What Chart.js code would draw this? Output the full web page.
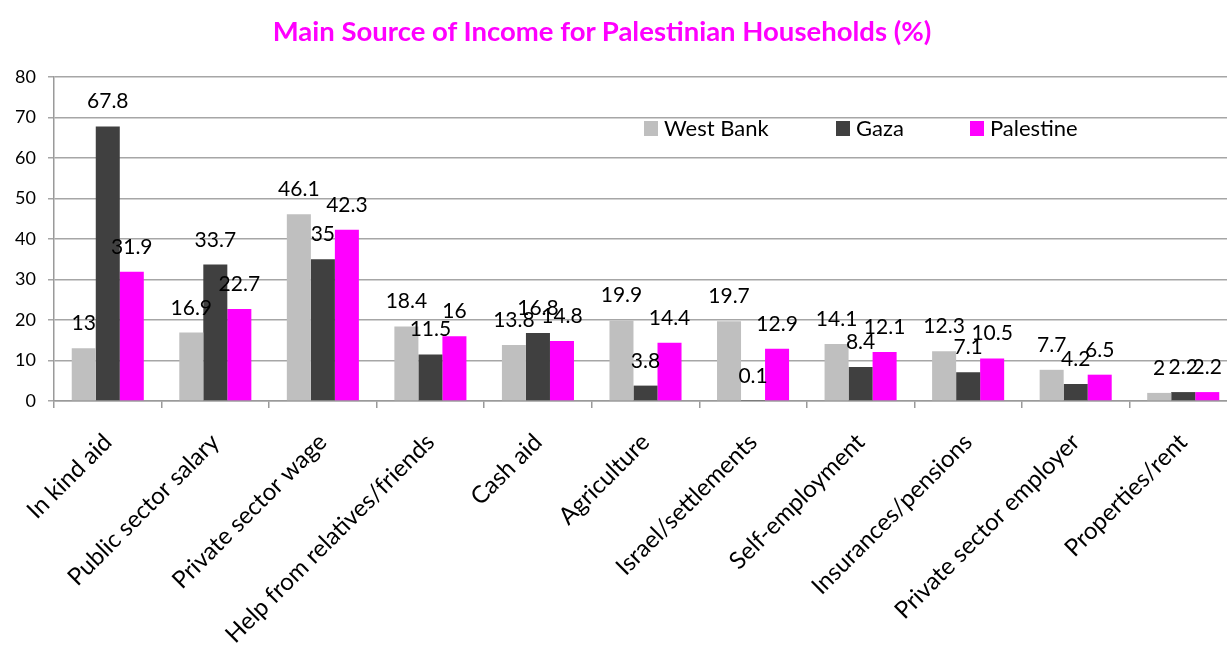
<!DOCTYPE html>
<html>
<head>
<meta charset="utf-8">
<script src="https://cdn.jsdelivr.net/npm/chart.js@4.4.1/dist/chart.umd.min.js"></script>
<style>
  html, body { margin: 0; padding: 0; background: #fff; overflow: hidden; }
  #wrap { position: relative; width: 1227px; height: 646px; overflow: hidden; }
  #title {
    position: absolute; left: 0; top: 14px; width: 1204px; text-align: center;
    font-family: Lato, sans-serif; font-weight: bold; font-size: 27.5px; color: #ff00ff;
  }
  canvas { position: absolute; left: 0; top: 0; }
</style>
</head>
<body>
<div id="wrap">
  <canvas id="myChart" width="1237" height="646"></canvas>
  <div id="title">Main Source of Income for Palestinian Households (%)</div>
</div>
<script>
// categories along the x axis
const categories = [
  'In kind aid', 'Public sector salary', 'Private sector wage', 'Help from relatives/friends',
  'Cash aid', 'Agriculture', 'Israel/settlements', 'Self-employment',
  'Insurances/pensions', 'Private sector employer', 'Properties/rent'
];

const westBank = [13, 16.9, 46.1, 18.4, 13.8, 19.9, 19.7, 14.1, 12.3, 7.7, 2];
const gaza = [67.8, 33.7, 35, 11.5, 16.8, 3.8, 0.1, 8.4, 7.1, 4.2, 2.2];
const palestine = [31.9, 22.7, 42.3, 16, 14.8, 14.4, 12.9, 12.1, 10.5, 6.5, 2.2];

const seriesNames = ['West Bank', 'Gaza', 'Palestine'];
const seriesColors = ['#bfbfbf', '#404040', '#ff00ff'];

const FONT = 'Lato, sans-serif';

// value labels above each bar
const barLabels = {
  id: 'barLabels',
  afterDatasetsDraw(chart) {
    const ctx = chart.ctx;
    ctx.save();
    ctx.font = '21px ' + FONT;
    ctx.fillStyle = '#000';
    ctx.textAlign = 'center';
    ctx.textBaseline = 'alphabetic';
    chart.data.datasets.forEach((ds, i) => {
      const meta = chart.getDatasetMeta(i);
      meta.data.forEach((bar, j) => {
        ctx.fillText(String(ds.data[j]), bar.x, bar.y - 18);
      });
    });
    ctx.restore();
  }
};

// legend drawn inside the plot area
const insideLegend = {
  id: 'insideLegend',
  afterDraw(chart) {
    const ctx = chart.ctx;
    const xs = [644, 836, 970];
    ctx.save();
    ctx.font = '22px ' + FONT;
    ctx.textBaseline = 'middle';
    ctx.textAlign = 'left';
    chart.data.datasets.forEach((ds, i) => {
      ctx.fillStyle = ds.backgroundColor;
      ctx.fillRect(xs[i], 121, 14, 15);
      ctx.fillStyle = '#000';
      ctx.fillText(ds.label, xs[i] + 20, 129);
    });
    ctx.restore();
  }
};

const ctx = document.getElementById('myChart').getContext('2d');

new Chart(ctx, {
  type: 'bar',
  data: {
    labels: categories,
    datasets: [westBank, gaza, palestine].map((vals, i) => ({
      label: seriesNames[i],
      data: vals,
      backgroundColor: seriesColors[i],
      borderWidth: 0,
      barPercentage: 1,
      categoryPercentage: 0.67
    }))
  },
  options: {
    responsive: false,
    animation: false,
    layout: { padding: { top: 77, left: 0, right: 0, bottom: 0 } },
    scales: {
      x: {
        grid: {
          offset: true,
          drawOnChartArea: false,
          drawTicks: true,
          tickLength: 7,
          color: '#9a9a9a',
          lineWidth: 1.5
        },
        border: { color: '#9a9a9a', width: 1.5 },
        ticks: {
          color: '#000',
          font: { family: FONT, size: 24 },
          minRotation: 45,
          maxRotation: 45,
          autoSkip: false,
          padding: 20
        },
        afterFit(scale) { scale.height = 245; }
      },
      y: {
        min: 0,
        max: 80,
        ticks: {
          stepSize: 10,
          color: '#000',
          font: { family: FONT, size: 18 },
          padding: 12
        },
        grid: {
          color: '#a6a6a6',
          lineWidth: 1.5,
          tickLength: 6
        },
        border: { color: '#9a9a9a', width: 1.5 },
        afterFit(scale) { scale.width = 54; }
      }
    },
    plugins: {
      legend: { display: false },
      title: { display: false },
      tooltip: { enabled: false }
    }
  },
  plugins: [barLabels, insideLegend]
});
</script>
</body>
</html>
